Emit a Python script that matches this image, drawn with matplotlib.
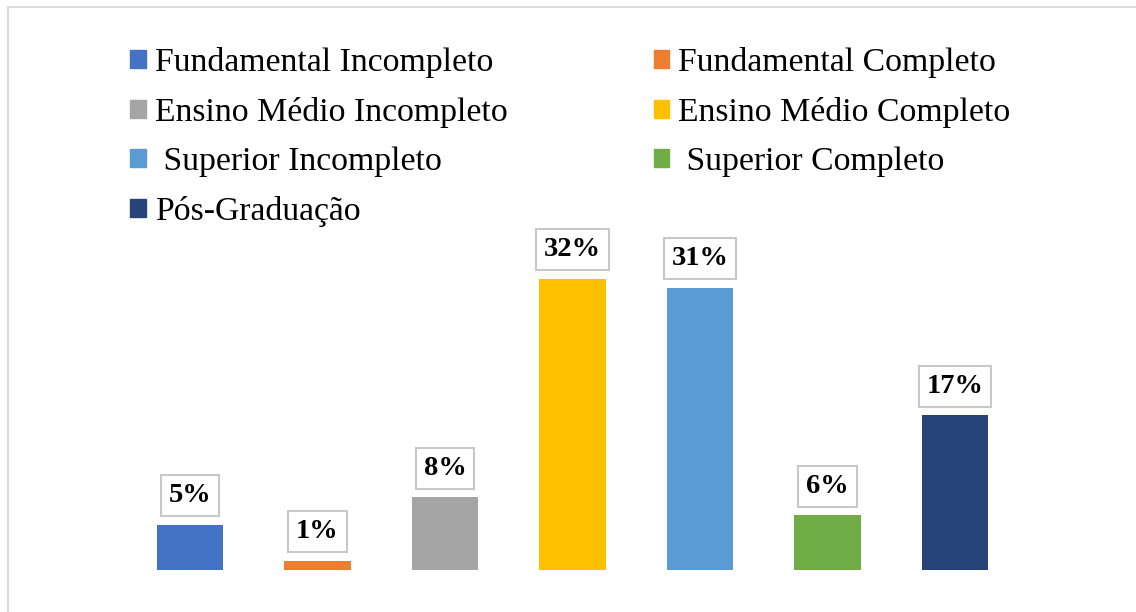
import matplotlib
matplotlib.use("Agg")
import matplotlib.pyplot as plt
from matplotlib.patches import Patch
from matplotlib.lines import Line2D

# escolaridade dos respondentes (%)
categorias = ["Fundamental Incompleto", "Fundamental Completo",
              "Ensino Médio Incompleto", "Ensino Médio Completo",
              " Superior Incompleto", " Superior Completo",
              "Pós-Graduação"]
valores = [5, 1, 8, 32, 31, 6, 17]
cores = ["#4472C4", "#ED7D31", "#A5A5A5", "#FFC000",
         "#5B9BD5", "#70AD47", "#264478"]

plt.rcParams['font.family'] = ['Liberation Serif', 'DejaVu Serif']

W, H = 1136, 612
fig = plt.figure(figsize=(W / 100, H / 100), dpi=100)
ax = fig.add_axes([62.5 / W, 1 - 570 / H, 1020 / W, 364 / H])

x = list(range(len(valores)))
barras = ax.bar(x, valores, width=0.52, color=cores)

# rótulos com caixa em cima de cada barra
for xi, v in zip(x, valores):
    ax.annotate(f"{v}%", (xi, v), xytext=(0, 12), textcoords="offset points",
                ha="center", va="bottom", fontsize=20.5, fontweight="bold",
                bbox=dict(boxstyle="square,pad=0.28", fc="white",
                          ec="#c8c8c8", lw=1.5))

ax.set_xlim(-1, 7)
ax.set_ylim(0, 40)
ax.axis("off")

# legenda em duas colunas, ordem por linha
ordem = [0, 2, 4, 6, 1, 3, 5]
handles = [Patch(color=cores[i]) for i in ordem]
labels = [categorias[i] for i in ordem]
fig.legend(handles, labels, ncol=2, loc="upper left",
           bbox_to_anchor=(130 / W, 1 - 47 / H), frameon=False,
           fontsize=24.3, handlelength=0.46, handleheight=0.46,
           handletextpad=0.27, columnspacing=4.33, labelspacing=0.56,
           borderpad=0, borderaxespad=0)

# moldura (só topo e esquerda)
fig.add_artist(Line2D([8 / W, 1], [1 - 7 / H, 1 - 7 / H], color="#dcdcdc", lw=1.5))
fig.add_artist(Line2D([8 / W, 8 / W], [0, 1 - 7 / H], color="#dcdcdc", lw=1.5))

fig.savefig("out.png", dpi=100, facecolor="white")
